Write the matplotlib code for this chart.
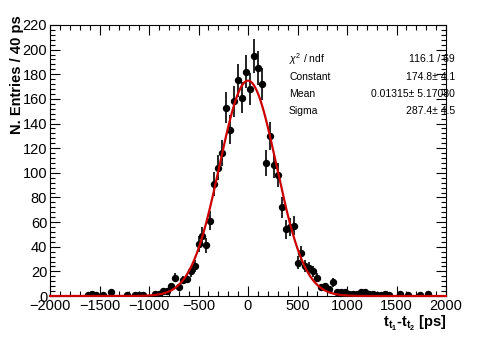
import numpy as np
import matplotlib
matplotlib.use("Agg")
import matplotlib.pyplot as plt
from matplotlib.ticker import MultipleLocator

plt.rcParams['font.family'] = ['Liberation Sans', 'DejaVu Sans']
plt.rcParams['mathtext.fontset'] = 'custom'
plt.rcParams['mathtext.rm'] = 'Liberation Sans'
plt.rcParams['mathtext.it'] = 'Liberation Sans:italic'
plt.rcParams['mathtext.bf'] = 'Liberation Sans:bold'

# bin centres (40 ps bins) and counts, non-empty bins only
centers = [-1620, -1580, -1540, -1460, -1380, -1220, -1140, -1100, -1060,
           -940, -900, -860, -820, -780, -740, -700, -660, -620, -580, -540,
           -500, -460, -420, -380, -340, -300, -260, -220, -180, -140, -100,
           -60, -20, 20, 60, 100, 140, 180, 220, 260, 300, 340, 380, 420, 460,
           500, 540, 580, 620, 660, 700, 740, 780, 820, 860, 900, 940, 980,
           1020, 1060, 1100, 1140, 1180, 1220, 1260, 1300, 1340, 1380, 1420,
           1540, 1620, 1740, 1820]
counts = [1, 2, 1, 1, 3, 1, 1, 1, 1,
          2, 2, 4, 4, 8, 15, 7, 13, 14, 20, 24,
          42, 49, 41, 61, 91, 104, 116, 153, 135, 158, 175,
          161, 182, 168, 195, 185, 172, 108, 130, 106, 98, 72, 54, 56, 57,
          27, 35, 24, 23, 20, 15, 7, 8, 6, 11, 3, 3, 3,
          2, 2, 2, 3, 3, 2, 2, 1, 1, 2, 1,
          2, 1, 1, 2]

# gaussian fit result
fit_const, fit_mean, fit_sigma = 174.8, 0.01315, 287.4
stat_labels = [r'$\chi^2$ / ndf', 'Constant', 'Mean', 'Sigma']
stat_values = ['116.1 / 69', '174.8\u00b1 4.1', '0.01315\u00b1 5.17080', '287.4\u00b1 4.5']

W, H = 496, 338
fig = plt.figure(figsize=(W / 100, H / 100), dpi=100)
ax = fig.add_axes([50 / W, 42 / H, 396 / W, 271 / H])

x = np.array(centers, dtype=float)
y = np.array(counts, dtype=float)
ax.errorbar(x, y, yerr=np.sqrt(y), fmt='o', color='black', ms=4.3,
            elinewidth=1.2, capsize=0, zorder=3)

xf = np.linspace(-2000, 2000, 1000)
yf = fit_const * np.exp(-0.5 * ((xf - fit_mean) / fit_sigma) ** 2)
ax.plot(xf, yf, color='#cc0000', lw=1.6, zorder=4, clip_on=False)

ax.set_xlim(-2000, 2000)
ax.set_ylim(0, 220)
ax.xaxis.set_major_locator(MultipleLocator(500))
ax.xaxis.set_minor_locator(MultipleLocator(100))
ax.yaxis.set_major_locator(MultipleLocator(20))
ax.yaxis.set_minor_locator(MultipleLocator(4))
ax.tick_params(which='both', direction='in', top=True, right=True,
               labelsize=10.5, width=0.8, pad=2)
ax.tick_params(which='major', length=7)
ax.tick_params(which='minor', length=3.5)
for s in ax.spines.values():
    s.set_linewidth(0.8)

ax.set_xlabel(r'$\mathbf{t_{t_1}}$-$\mathbf{t_{t_2}}$ [ps]', fontsize=10.5,
              fontweight='bold', loc='right', labelpad=1)
ax.set_ylabel('N. Entries / 40 ps', fontsize=10.5, fontweight='bold',
              loc='top')
ax.yaxis.set_label_coords(-0.065, 1.035)

rows_y = [59, 77, 94, 111]
for lab, val, ry in zip(stat_labels, stat_values, rows_y):
    fig.text(289 / W, 1 - ry / H, lab, fontsize=7.5, va='center', ha='left')
    fig.text(455 / W, 1 - ry / H, val, fontsize=7.5, va='center', ha='right')

fig.savefig('out.png', dpi=100)
